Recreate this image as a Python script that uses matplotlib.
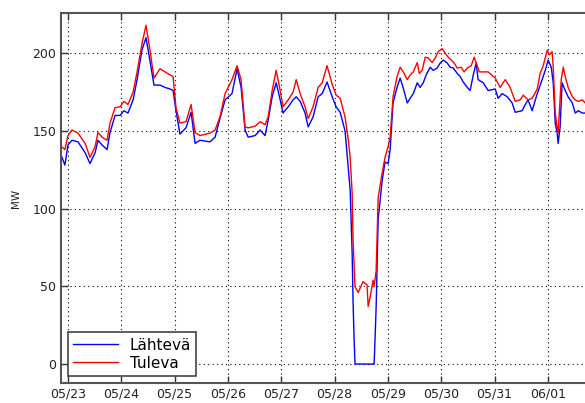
import numpy as np
import matplotlib
matplotlib.use("Agg")
import matplotlib.pyplot as plt
import matplotlib.dates as mdates

# hours from 05/23 00:00 and power values (MW)
start = np.datetime64("2011-05-23T00:00")

lahteva_h = [-3, -2.7, -1.4, 0, 1.8, 4.5, 7.7, 9.9, 12.2, 13.5, 15.3, 17.6, 18.9, 21.2,
             23.4, 25.2, 27, 29.3, 31.1, 33.3, 35.1, 36.9, 38.7, 41.4, 43.7, 45.9, 47.3,
             48.6, 50.4, 53.1, 55.4, 57.2, 59.4, 63.9, 66.2, 68.4, 70.7, 73.8, 76.1, 77.9,
             79.7, 81.1, 84.2, 86.5, 88.7, 90.1, 91.9, 93.7, 95.5, 96.8, 99.1, 101.3, 102.7,
             104.5, 106.7, 108.1, 110.3, 112.6, 114.4, 116.6, 118.9, 120.7, 122.5, 124.7,
             127, 127.9, 128.3, 128.8, 129.2, 137.8, 138.7, 139.1, 139.6, 141.4, 142.7,
             144.1, 145, 146.3, 148.1, 149.5, 150.9, 152.7, 154, 155.4, 157.2, 158.5, 159.9,
             161.2, 163, 164.4, 166.2, 167.5, 168.9, 170.7, 172, 173.4, 175.2, 176.5, 177.9,
             179.7, 181, 182.4, 183.7, 184.6, 186.9, 189.1, 192.3, 193.6, 195.4, 197.7,
             199.9, 201.3, 204.4, 205.8, 207.1, 208.9, 211.2, 213.4, 214.8, 216.1, 217.5,
             218.4, 219.3, 220.2, 220.6, 221.5, 222.4, 223.8, 225.1, 227, 228.3, 229.7,
             231.5, 232.8, 236, 239]
lahteva = [134, 133, 128, 141, 144, 143, 136, 129, 136, 144, 141, 138, 149, 160,
           160, 163, 161.5, 170, 183, 202, 210, 195, 179.5, 179.5, 178, 177, 176,
           163, 148, 152, 162, 142, 144, 143, 146, 158, 170, 174, 190, 178,
           150.6, 146, 147, 150.6, 147, 157, 172, 181, 170, 161.5, 165.5, 170, 172,
           169, 161.5, 152.6, 159, 172, 174, 181.5, 172, 165.5, 162, 150,
           112, 71, 40, 15, 0, 0, 37, 62, 93, 118, 130,
           129, 138, 168, 178, 184, 177.6, 168, 171, 174, 181, 178, 181,
           186, 191, 189, 190.5, 193.7, 195.6, 193.7, 191, 190.5, 187, 185, 181.5,
           178, 176, 186, 193.7, 183, 181, 176, 177, 171, 174, 172,
           168, 162, 163, 167, 170, 163, 174, 183, 189, 195.6, 191,
           181, 155, 148.6, 142, 152.6, 181, 176, 172, 168, 161.5, 163,
           161.5, 161.5, 162, 163]

tuleva_h = [-3, -1.4, 0, 1.8, 4.5, 7.7, 9.9, 12.2, 13.5, 15.3, 17.6, 18.9, 21.2, 23.4,
            25.2, 27, 29.3, 31.1, 33.3, 35.1, 36.9, 38.7, 41.4, 43.7, 45.9, 47.3, 48.6,
            50.4, 53.1, 55.4, 57.2, 59.4, 63.9, 66.2, 68.4, 70.7, 73.8, 76.1, 77.9, 79.7,
            81.1, 84.2, 86.5, 88.7, 90.1, 91.9, 93.7, 95.5, 96.8, 99.1, 101.3, 102.7, 104.5,
            106.7, 108.1, 110.3, 112.6, 114.4, 116.6, 118.9, 120.7, 122.5, 124.7, 126, 127,
            127.9, 128.3, 129.2, 130.6, 132.8, 134.6, 135.1, 136, 137.3, 137.8, 138.7,
            139.6, 141.4, 142.7, 144.1, 145, 146.3, 148.1, 149.5, 150.9, 152.7, 154, 155.4,
            157.2, 158.1, 159.4, 160.8, 162.1, 163.9, 165.3, 166.6, 168.4, 169.8, 171.1,
            172.5, 173.8, 175.2, 176.9, 178.3, 179.7, 181.5, 182.8, 183.7, 185.1, 187.4,
            189.1, 192.3, 194.5, 196.8, 199, 201.3, 203.5, 204.9, 207.1, 208.9, 211.2,
            212.5, 213.9, 215.7, 216.6, 217.9, 218.4, 219.3, 220.2, 220.6, 222, 222.9,
            223.8, 225.1, 227, 228.3, 229.7, 231.5, 232.8, 236, 239]
tuleva = [140, 138, 147, 150.6, 148.6, 142, 133, 140, 149, 146, 144, 155, 165, 165.5,
          169, 167, 175, 188, 206, 218, 202, 184, 190, 188, 186, 185, 165,
          155, 156, 167, 149, 147, 148.6, 150.6, 159, 174, 183, 192, 183, 152.6,
          152, 153, 156, 154, 159, 176, 189, 176, 165.5, 170, 175, 183, 174,
          165.5, 158, 165.5, 178, 181, 192, 180, 173, 171, 159, 146, 133,
          110, 80, 50, 46, 53, 51, 37, 43, 54, 50, 60,
          107, 123, 133, 140, 146, 172, 185, 191, 188, 183, 186, 188,
          194, 187, 189, 197.5, 197, 194, 197, 201, 203, 200, 197.5,
          195.6, 193.7, 190.5, 191, 188, 190.5, 192, 197.5, 194, 188, 188,
          188, 184, 178, 183, 178, 169, 170, 173, 170, 171, 177,
          187, 192, 202, 199, 201, 191, 161.5, 152, 148.6, 183, 191,
          185, 178, 172, 170, 169, 170, 168, 169, 170]

y_ticks = [0, 50, 100, 150, 200]


def to_dates(hours):
    return start + (np.array(hours) * 60).astype("timedelta64[m]")


fig = plt.figure(figsize=(5.85, 4.03), dpi=100)
ax = fig.add_axes([61 / 585, 20 / 403, 540 / 585, 370 / 403])

ax.plot(to_dates(lahteva_h), lahteva, color=(0, 0, 1), linewidth=1.0, label="Lähtevä")
ax.plot(to_dates(tuleva_h), tuleva, color=(1, 0, 0), linewidth=1.0, label="Tuleva")

# right edge runs past the picture, like the reference (no 06/02 tick)
ax.set_xlim(to_dates([-3.15])[0], to_dates([239.9])[0])
ax.set_ylim(-12.2, 225.9)
ax.set_yticks(y_ticks)
ax.xaxis.set_major_locator(mdates.DayLocator())
ax.xaxis.set_major_formatter(mdates.DateFormatter("%m/%d"))

ax.grid(True, color="black", linestyle=(0, (1, 3)), linewidth=0.8)
ax.tick_params(direction="in", length=5, width=1, labelsize=9, colors="#333333",
               top=True, right=True, labelcolor="#222222")
for s in ax.spines.values():
    s.set_color("#555555")
    s.set_linewidth(1.5)

ax.set_ylabel("MW", fontsize=7.5, color="#222222", labelpad=8)

leg = ax.legend(loc="lower left", fontsize=11, fancybox=False, edgecolor="#444444",
                framealpha=1, borderaxespad=0.45, handlelength=2.9,
                labelspacing=0.2, borderpad=0.35)
leg.get_frame().set_linewidth(1.2)

fig.savefig("out.png", dpi=100)
